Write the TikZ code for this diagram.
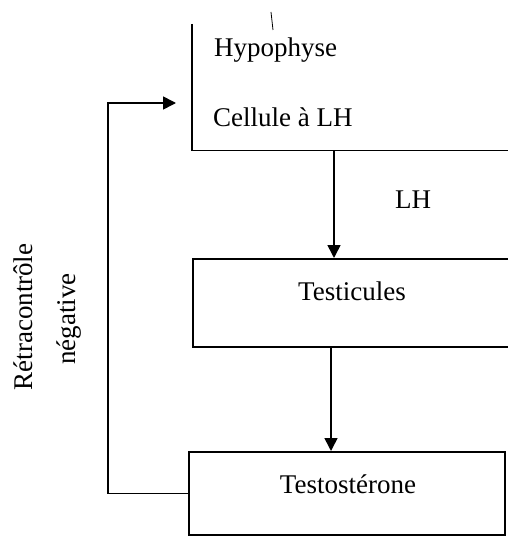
\documentclass[tikz,border=0pt]{standalone}
\usepackage{fontspec}
\setmainfont{Liberation Serif}
\usetikzlibrary{arrows.meta}
\begin{document}
\begin{tikzpicture}[x=1pt,y=-1pt,
  txt/.style={inner sep=0pt, font=\fontsize{27}{32}\selectfont},
  boxshape/.style={draw, line width=1.6pt, inner sep=0pt, anchor=north west},
  frame/.style={inner sep=0pt, anchor=north west},
  arr/.style={line width=1.6pt, -{Triangle[width=13pt,length=13pt]}},
  line/.style={line width=1.6pt}]
\useasboundingbox (0,0) rectangle (507,537);
% top box (open on top and right)
\node[frame, minimum width=330pt, minimum height=126pt] (hyp) at (192,24) {};
\draw[line] (hyp.north west) -- (hyp.south west) -- (hyp.south east);
\node[txt, anchor=west] (hypo) at (214,50) {Hypophyse};
\node[txt, anchor=west] (cell) at (213,117) {Cellule à LH};
% Testicules box
\node[boxshape, minimum width=330pt, minimum height=88pt] (testi) at (192,258) {};
\node[txt] (testitxt) at (352,291) {Testicules};
% Testosterone box
\node[boxshape, minimum width=316pt, minimum height=83pt] (testo) at (188,451) {};
\node[txt] (testotxt) at (348,484) {Testostérone};
% LH label
\node[txt] (lh) at (413,200) {LH};
% arrows
\coordinate (a1) at (334,0);
\coordinate (a2) at (331,0);
\draw[arr] (a1 |- hyp.south) -- (a1 |- testi.north);
\draw[arr] (a2 |- testi.south) -- (a2 |- testo.north);
% feedback
\coordinate (fbc) at (108,103);
\coordinate (fbtip) at (176,103);
\draw[arr] (testo.west) -| (fbc) -- (fbtip);
\node[txt, rotate=90] (retro) at (23,317) {Rétracontrôle};
\node[txt, rotate=90] (neg) at (69,319) {négative};
% scan mark
\draw[line width=0.8pt] (271,12) -- (273,30);
\end{tikzpicture}
\end{document}
